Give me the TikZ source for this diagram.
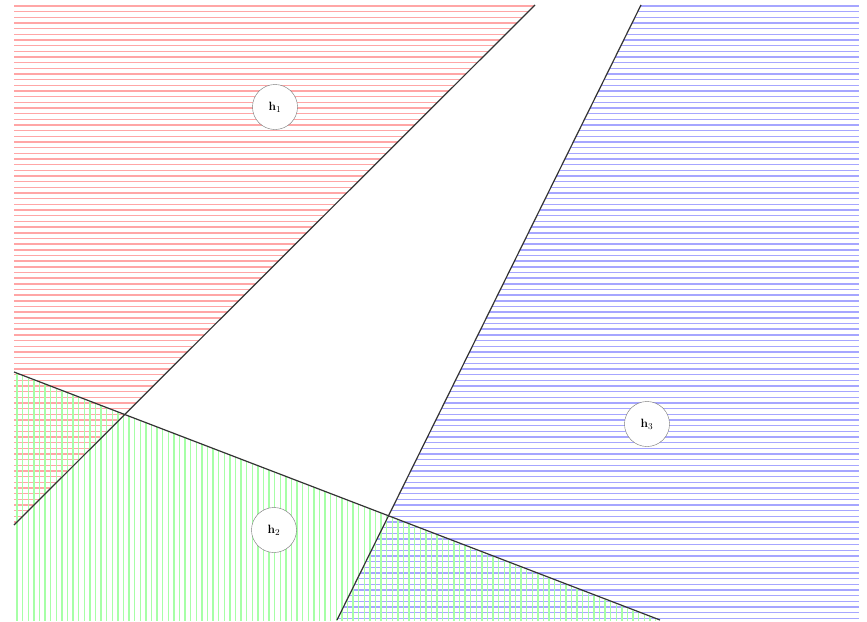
\documentclass[tikz,border=0pt]{standalone}
\begin{document}
\begin{tikzpicture}[x=1pt,y=-1pt,
  redhatch/.style={draw=red!35,line width=1.4pt},
  bluehatch/.style={draw=blue!35,line width=1.4pt},
  greenhatch/.style={draw=green!35,line width=1.4pt},
  boundary/.style={draw=black!80,line width=1.2pt},
  hnode/.style={circle,draw=black!55,fill=white,minimum size=45pt,inner sep=0pt,font=\fontsize{13}{15}\selectfont}]
\useasboundingbox (0,0) rectangle (867,621);
\coordinate (a1) at (14,525);
\coordinate (a2) at (535,5);
\coordinate (b1) at (14,372);
\coordinate (b2) at (660,620);
\coordinate (c1) at (337,620);
\coordinate (c2) at (641,5);
% red half-plane
\begin{scope}
  \clip (14,5) -- (535,5) -- (14,525) -- cycle;
  \foreach \i in {0,...,92} \draw[redhatch] (14,{6+\i*5.67}) -- (859,{6+\i*5.67});
\end{scope}
% blue half-plane
\begin{scope}
  \clip (641,5) -- (859,5) -- (859,621) -- (337,621) -- cycle;
  \foreach \i in {0,...,108} \draw[bluehatch] (14,{6+\i*5.67}) -- (859,{6+\i*5.67});
\end{scope}
% green half-plane
\begin{scope}
  \clip (14,372) -- (660,621) -- (14,621) -- cycle;
  \foreach \i in {0,...,115} \draw[greenhatch] ({17+\i*5.6},5) -- ({17+\i*5.6},621);
\end{scope}
\draw[boundary] (a1) -- (a2);
\draw[boundary] (b1) -- (b2);
\draw[boundary] (c1) -- (c2);
\node[hnode] (h1) at (275,107) {$\mathbf{h}_1$};
\node[hnode] (h2) at (274,530) {$\mathbf{h}_2$};
\node[hnode] (h3) at (647,424) {$\mathbf{h}_3$};
\end{tikzpicture}
\end{document}
